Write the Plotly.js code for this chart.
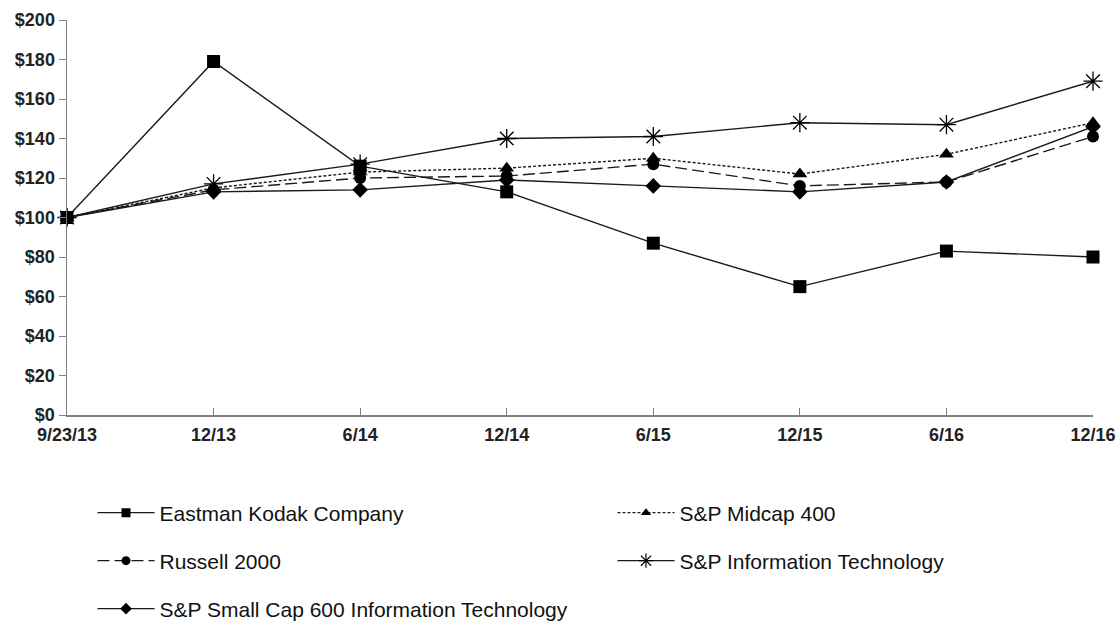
<!DOCTYPE html>
<html>
<head>
<meta charset="utf-8">
<script src="https://cdn.plot.ly/plotly-3.0.1.min.js"></script>
<style>html,body{margin:0;padding:0;background:#fff;}#chart{width:1118px;height:621px;}</style>
</head>
<body>
<div id="chart"></div>
<script>
const categories = ["9/23/13", "12/13", "6/14", "12/14", "6/15", "12/15", "6/16", "12/16"];
const kodak       = [100, 179, 126, 113, 87, 65, 83, 80];
const midcap400   = [100, 115, 123, 125, 130, 122, 132, 148];
const russell2000 = [100, 114, 120, 121, 127, 116, 118, 141];
const spIT        = [100, 117, 127, 140, 141, 148, 147, 169];
const smallCapIT  = [100, 113, 114, 119, 116, 113, 118, 146];
const yTicks = [0, 20, 40, 60, 80, 100, 120, 140, 160, 180, 200];
const yTickText = yTicks.map(v => "$" + v);

const lineColor = "#1a1a1a";
const series = [
  {name: "S&P Small Cap 600 Information Technology", y: smallCapIT, dash: "solid", symbol: "diamond", size: 12, lsize: 9, legend: "legend5"},
  {name: "Russell 2000", y: russell2000, dash: "12px,5px", symbol: "circle", size: 12, lsize: 9, legend: "legend3"},
  {name: "S&P Midcap 400", y: midcap400, dash: "3px,2px", symbol: "triangle-up", size: 13, lsize: 9, legend: "legend2"},
  {name: "S&P Information Technology", y: spIT, dash: "solid", symbol: "asterisk-open", size: 16, lsize: 12, legend: "legend4"},
  {name: "Eastman Kodak Company", y: kodak, dash: "solid", symbol: "square", size: 13, lsize: 9, legend: "legend"}
];
const data = [];
series.forEach(s => {
  const open = s.symbol.indexOf("open") >= 0;
  data.push({
    type: "scatter", mode: "lines+markers", name: s.name, x: categories, y: s.y,
    cliponaxis: false, showlegend: false,
    line: {color: lineColor, width: 1.4, dash: s.dash},
    marker: {symbol: s.symbol, size: s.size, color: "#000", line: {color: "#000", width: open ? 1.3 : 0}}
  });
});
// legend-only entries (smaller markers, as in the reference key)
series.forEach(s => {
  const open = s.symbol.indexOf("open") >= 0;
  data.push({
    type: "scatter", mode: "lines+markers", name: s.name, x: [null], y: [null],
    showlegend: true, legend: s.legend,
    line: {color: lineColor, width: 1.4, dash: s.dash},
    marker: {symbol: s.symbol, size: s.lsize, color: "#000", line: {color: "#000", width: open ? 1.2 : 0}}
  });
});
const fontFam = "Liberation Sans, Arial, sans-serif";
const legBase = {
  orientation: "v", xref: "paper", yref: "paper", xanchor: "left", yanchor: "middle",
  itemwidth: 57,
  font: {family: fontFam, size: 21, color: "#111"},
  bgcolor: "rgba(0,0,0,0)", borderwidth: 0
};
const col1 = (92.5 - 67) / 1026, col2 = (612.5 - 67) / 1026;
const row = py => (415 - py) / 395;
const layout = {
  width: 1118, height: 621,
  margin: {l: 67, r: 25, t: 20, b: 206, autoexpand: false},
  paper_bgcolor: "#fff", plot_bgcolor: "#fff",
  showlegend: true,
  legend:  Object.assign({}, legBase, {x: col1, y: row(513)}),
  legend2: Object.assign({}, legBase, {x: col2, y: row(513)}),
  legend3: Object.assign({}, legBase, {x: col1, y: row(561)}),
  legend4: Object.assign({}, legBase, {x: col2, y: row(561)}),
  legend5: Object.assign({}, legBase, {x: col1, y: row(609)}),
  xaxis: {
    type: "category", range: [0, 7], showgrid: false, zeroline: false,
    showline: true, linecolor: "#808080", linewidth: 1.5,
    ticks: "inside", ticklen: 7, tickcolor: "#808080", ticklabelstandoff: 3,
    tickfont: {family: fontFam, size: 18, color: "#222", weight: "bold"}
  },
  yaxis: {
    range: [0, 200], tickmode: "array", tickvals: yTicks, ticktext: yTickText,
    showgrid: false, zeroline: false,
    showline: true, linecolor: "#808080", linewidth: 1.5,
    ticks: "outside", ticklen: 7, tickcolor: "#808080",
    tickfont: {family: fontFam, size: 18, color: "#222", weight: "bold"}
  }
};
Plotly.newPlot("chart", data, layout, {displayModeBar: false, staticPlot: true});
</script>
</body>
</html>
